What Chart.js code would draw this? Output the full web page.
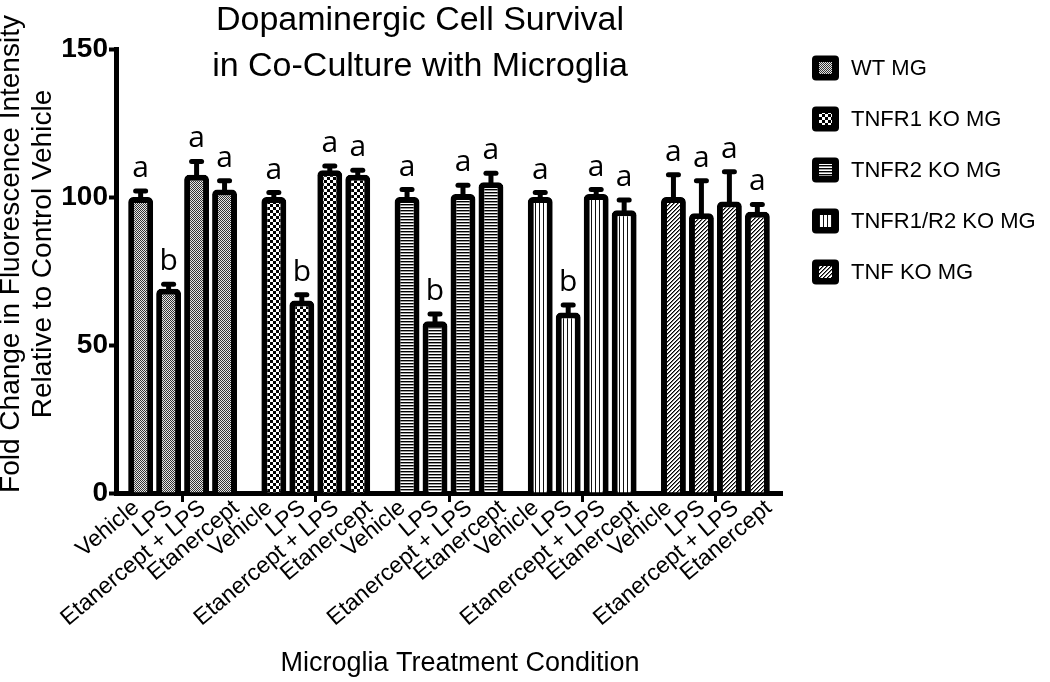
<!DOCTYPE html>
<html>
<head>
<meta charset="utf-8">
<script src="https://cdn.jsdelivr.net/npm/chart.js@4.4.1/dist/chart.umd.min.js"></script>
<style>
  html, body { margin: 0; padding: 0; background: #fff; }
</style>
</head>
<body>
<canvas id="myChart" width="1050" height="682"></canvas>
<script>
const genotypes = ['WT MG', 'TNFR1 KO MG', 'TNFR2 KO MG', 'TNFR1/R2 KO MG', 'TNF KO MG'];
const treatments = ['Vehicle', 'LPS', 'Etanercept + LPS', 'Etanercept'];

// means per genotype, treatment order as above
const wtMeans = [100, 69, 107.5, 102.5];
const tnfr1Means = [100, 65, 109, 107.5];
const tnfr2Means = [100, 58, 101, 105];
const tnfr12Means = [100, 61, 101, 95.5];
const tnfMeans = [100, 94.5, 98.5, 95];

// SEM (only the upper whisker is visible)
const wtSem = [2, 1.5, 4.5, 3];
const tnfr1Sem = [1.5, 2, 1.5, 1.5];
const tnfr2Sem = [2.5, 2.5, 3, 3];
const tnfr12Sem = [1.5, 2.5, 1.5, 3.5];
const tnfSem = [7.5, 11, 10, 2.5];

// significance letters
const wtLetters = ['a', 'b', 'a', 'a'];
const tnfr1Letters = ['a', 'b', 'a', 'a'];
const tnfr2Letters = ['a', 'b', 'a', 'a'];
const tnfr12Letters = ['a', 'b', 'a', 'a'];
const tnfLetters = ['a', 'a', 'a', 'a'];

const yTicks = [0, 50, 100, 150];

const allMeans = [wtMeans, tnfr1Means, tnfr2Means, tnfr12Means, tnfMeans];
const allSem = [wtSem, tnfr1Sem, tnfr2Sem, tnfr12Sem, tnfSem];
const allLetters = [wtLetters, tnfr1Letters, tnfr2Letters, tnfr12Letters, tnfLetters];

const FONT = '"Liberation Sans", Arial, sans-serif';

// small pattern tiles for each genotype
const makePattern = (w, h, paint) => {
  const c = document.createElement('canvas');
  c.width = w;
  c.height = h;
  const g = c.getContext('2d');
  g.fillStyle = '#fff';
  g.fillRect(0, 0, w, h);
  for (let y = 0; y < h; y++) {
    for (let x = 0; x < w; x++) {
      const col = paint(x, y);
      if (col) {
        g.fillStyle = col;
        g.fillRect(x, y, 1, 1);
      }
    }
  }
  return document.createElement('canvas').getContext('2d').createPattern(c, 'repeat');
};

const patterns = [
  makePattern(2, 2, (x, y) => ((x + y) % 2 === 0 ? '#333' : '#e6e6e6')),
  makePattern(6, 6, (x, y) => ((Math.floor(x / 3) + Math.floor(y / 3)) % 2 === 0 ? '#000' : null)),
  makePattern(1, 3, (x, y) => (y === 0 ? '#000' : y === 1 ? '#999' : null)),
  makePattern(4, 1, (x) => (x === 3 ? '#111' : null)),
  makePattern(4, 4, (x, y) => ((x + y) % 4 === 0 ? '#000' : (x + y) % 4 === 1 ? '#777' : null))
];

const decorations = {
  id: 'decorations',
  afterDatasetsDraw(chart) {
    const { ctx } = chart;
    const yScale = chart.scales.y;
    const xScale = chart.scales.x;
    const nTreat = treatments.length;
    const slot = xScale.width / (genotypes.length * nTreat);

    chart.data.datasets.forEach((ds, ti) => {
      const meta = chart.getDatasetMeta(ti);
      meta.data.forEach((bar, gi) => {
        const top = yScale.getPixelForValue(ds.data[gi] + ds.sem[gi]);
        ctx.save();
        ctx.strokeStyle = '#000';
        ctx.lineWidth = 5;
        ctx.beginPath();
        ctx.moveTo(bar.x, bar.y + 3);
        ctx.lineTo(bar.x, top);
        ctx.stroke();
        ctx.lineCap = 'round';
        ctx.beginPath();
        ctx.moveTo(bar.x - 5, top);
        ctx.lineTo(bar.x + 5, top);
        ctx.stroke();

        ctx.fillStyle = '#000';
        ctx.font = '30px "Open Sans", sans-serif';
        ctx.textAlign = 'center';
        ctx.textBaseline = 'alphabetic';
        ctx.fillText(ds.letters[gi], bar.x, top - 14);

        // treatment labels sit on evenly spaced slots along the axis
        const lx = xScale.left + (gi * nTreat + ti + 0.5) * slot + 3.5;
        ctx.font = '23px ' + FONT;
        ctx.translate(lx, 505);
        ctx.rotate(-40 * Math.PI / 180);
        ctx.textAlign = 'right';
        ctx.textBaseline = 'middle';
        ctx.fillText(ds.label, 0, 0);
        ctx.restore();
      });
    });

    ctx.save();
    ctx.fillStyle = '#000';

    // title
    ctx.font = '34px ' + FONT;
    ctx.textAlign = 'center';
    ctx.textBaseline = 'alphabetic';
    ctx.fillText('Dopaminergic Cell Survival', 420, 30);
    ctx.fillText('in Co-Culture with Microglia', 420, 76);

    // axis titles
    ctx.font = '27px ' + FONT;
    ctx.textBaseline = 'middle';
    ctx.fillText('Microglia Treatment Condition', 460, 664);
    ctx.save();
    ctx.font = '28px ' + FONT;
    ctx.translate(0, 254);
    ctx.rotate(-Math.PI / 2);
    ctx.fillText('Fold Change in Fluorescence Intensity', 0, 11);
    ctx.fillText('Relative to Control Vehicle', 0, 43);
    ctx.restore();

    // legend
    genotypes.forEach((name, i) => {
      const cy = 68 + i * 51;
      ctx.fillStyle = '#000';
      ctx.beginPath();
      ctx.roundRect(812, cy - 12.5, 27, 25, 4);
      ctx.fill();
      ctx.fillStyle = patterns[i];
      ctx.fillRect(819, cy - 6, 13, 12);
      ctx.fillStyle = '#000';
      ctx.font = '22px ' + FONT;
      ctx.textAlign = 'left';
      ctx.textBaseline = 'middle';
      ctx.fillText(name, 851, cy + 1);
    });
    ctx.restore();
  }
};

new Chart(document.getElementById('myChart'), {
  type: 'bar',
  data: {
    labels: genotypes,
    datasets: treatments.map((t, ti) => ({
      label: t,
      data: allMeans.map(m => m[ti]),
      sem: allSem.map(s => s[ti]),
      letters: allLetters.map(l => l[ti]),
      backgroundColor: patterns,
      borderColor: '#000',
      borderWidth: 6,
      borderSkipped: 'bottom',
      borderRadius: { topLeft: 5, topRight: 5 },
      categoryPercentage: 0.84,
      barPercentage: 0.89
    }))
  },
  options: {
    responsive: false,
    animation: false,
    layout: { padding: { left: 0, right: 268, top: 49, bottom: 0 } },
    plugins: {
      legend: { display: false },
      tooltip: { enabled: false }
    },
    scales: {
      x: {
        grid: {
          offset: false,
          drawOnChartArea: false,
          tickLength: 9,
          tickWidth: 3,
          tickColor: '#000',
          color: '#000'
        },
        border: { display: true, color: '#000', width: 5 },
        ticks: { display: false },
        afterFit(scale) { scale.height = 682 - 493; }
      },
      y: {
        min: 0,
        max: 150,
        afterBuildTicks(scale) { scale.ticks = yTicks.map(v => ({ value: v })); },
        grid: {
          drawOnChartArea: false,
          tickLength: 7,
          tickWidth: 4,
          tickColor: '#000',
          color: '#000'
        },
        border: { display: true, color: '#000', width: 5 },
        ticks: {
          color: '#000',
          padding: 1,
          font: { family: FONT, size: 28, weight: 'bold' }
        },
        afterFit(scale) { scale.width = 116; }
      }
    }
  },
  plugins: [decorations]
});
</script>
</body>
</html>
